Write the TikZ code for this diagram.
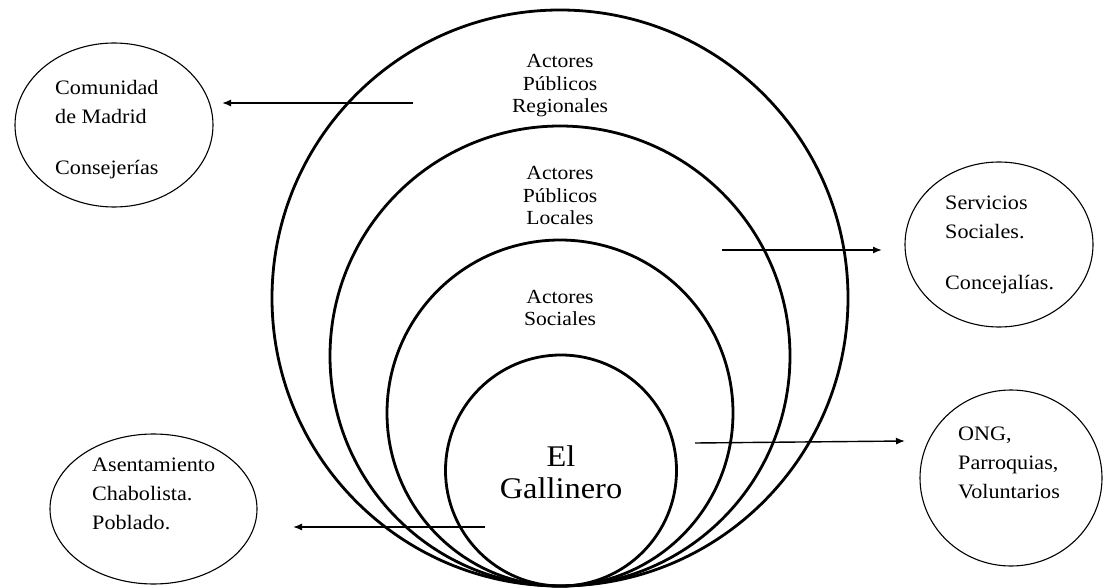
\documentclass[tikz,border=0pt]{standalone}
\usepackage{fontspec}
\setmainfont{Liberation Serif}[FakeStretch=1.08]
\usetikzlibrary{shapes.geometric,arrows.meta}
\begin{document}
\begin{tikzpicture}[x=1pt,y=-1pt,
  ring/.style={draw, circle, line width=2.8pt, inner sep=0pt},
  oval/.style={draw, ellipse, line width=1.1pt, inner sep=0pt},
  arr/.style={-{Latex[length=9pt,width=7pt]}, line width=1.4pt},
  lbl/.style={inner sep=0pt, anchor=base, font=\fontsize{20}{22.5}\selectfont},
  side/.style={inner sep=0pt, anchor=base west, font=\fontsize{20.5}{29}\selectfont}]
\useasboundingbox[fill=white] (0,0) rectangle (1103,588);

% concentric circles, tangent at the bottom
\node[ring, minimum size=576pt] (regional) at (560,298) {};
\node[ring, minimum size=460pt] (local) at (560,356) {};
\node[ring, minimum size=346pt] (social) at (560,413) {};
\node[ring, minimum size=231pt] (gallinero) at (561,470.5) {};

% labels inside circles
\node[lbl] (tReg) at (560,68) {\begin{tabular}[t]{@{}c@{}}Actores\\Públicos\\Regionales\end{tabular}};
\node[lbl] (tLoc) at (560,180) {\begin{tabular}[t]{@{}c@{}}Actores\\Públicos\\Locales\end{tabular}};
\node[lbl, font=\fontsize{20}{22}\selectfont] (tSoc) at (560,303) {\begin{tabular}[t]{@{}c@{}}Actores\\Sociales\end{tabular}};
\node[lbl, font=\fontsize{30}{32}\selectfont] (tGal) at (561,466) {\begin{tabular}[t]{@{}c@{}}El\\Gallinero\end{tabular}};

% side ellipses
\node[oval, minimum width=198pt, minimum height=164pt] (comunidad) at (114,125) {};
\node[oval, minimum width=188pt, minimum height=165pt] (servicios) at (999,244.5) {};
\node[oval, minimum width=182pt, minimum height=176pt] (ong) at (1011,478) {};
\node[oval, minimum width=207pt, minimum height=150pt] (asentamiento) at (153.5,509) {};

\node[side] (tCom) at (55,95) {\begin{tabular}[t]{@{}l@{}}Comunidad\\de Madrid\\[22pt]Consejerías\end{tabular}};
\node[side] (tSer) at (945,210) {\begin{tabular}[t]{@{}l@{}}Servicios\\Sociales.\\[22pt]Concejalías.\end{tabular}};
\node[side] (tOng) at (958,440) {\begin{tabular}[t]{@{}l@{}}ONG,\\Parroquias,\\Voluntarios\end{tabular}};
\node[side] (tAse) at (92,471) {\begin{tabular}[t]{@{}l@{}}Asentamiento\\Chabolista.\\Poblado.\end{tabular}};

% arrows
\coordinate (a1s) at (413,103); \coordinate (a1e) at (222,103);
\coordinate (a2s) at (722,250); \coordinate (a2e) at (882,250);
\coordinate (a3s) at (695,443); \coordinate (a3e) at (905,441);
\coordinate (a4s) at (485,527); \coordinate (a4e) at (293,527);
\draw[arr] (a1s) -- (a1e);
\draw[arr] (a2s) -- (a2e);
\draw[arr] (a3s) -- (a3e);
\draw[arr] (a4s) -- (a4e);
\end{tikzpicture}
\end{document}
